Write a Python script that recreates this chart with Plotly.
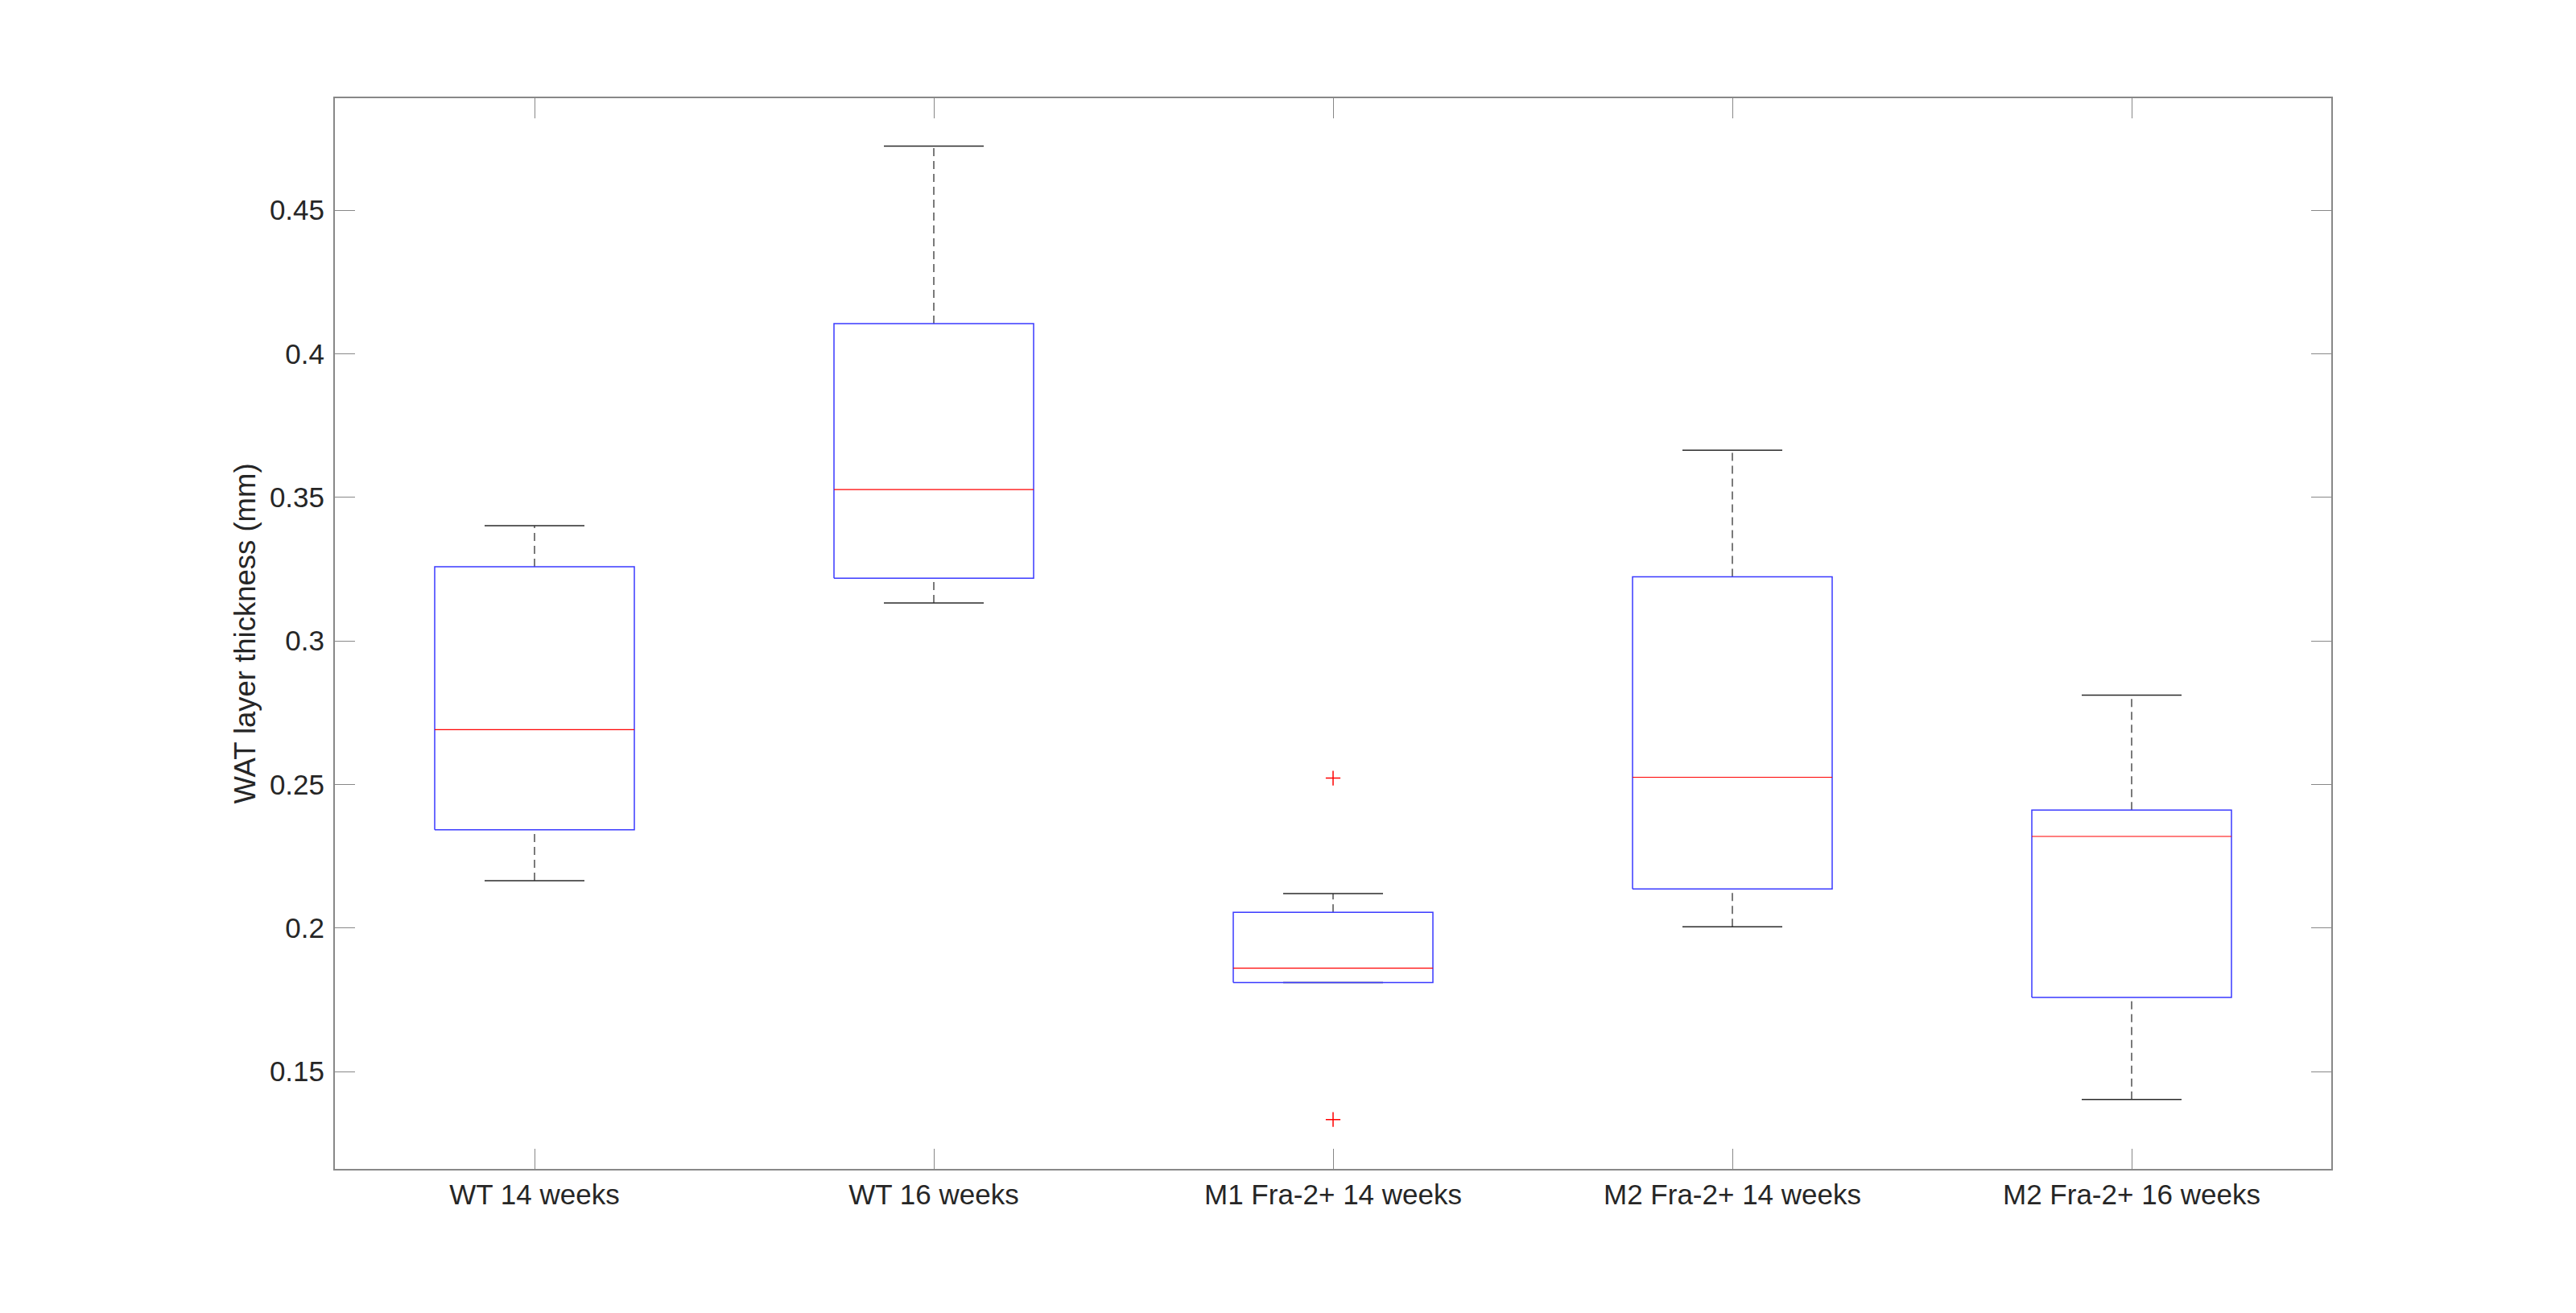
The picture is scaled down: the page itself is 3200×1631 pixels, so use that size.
import plotly.graph_objects as go

# ---- data ----
categories = ["WT 14 weeks", "WT 16 weeks", "M1 Fra-2+ 14 weeks",
              "M2 Fra-2+ 14 weeks", "M2 Fra-2+ 16 weeks"]
upper_whisker = [0.3401, 0.4723, 0.2120, 0.3664, 0.2811]
q3_values = [0.3258, 0.4105, 0.2055, 0.3223, 0.2411]
median_values = [0.2691, 0.3527, 0.1860, 0.2525, 0.2319]
q1_values = [0.2342, 0.3218, 0.1810, 0.2136, 0.1758]
lower_whisker = [0.2165, 0.3132, 0.1810, 0.2004, 0.1403]
outlier_group = [3, 3]
outlier_values = [0.2522, 0.1333]

y_tick_vals = [0.15, 0.2, 0.25, 0.3, 0.35, 0.4, 0.45]
y_tick_text = ["0.15", "0.2", "0.25", "0.3", "0.35", "0.4", "0.45"]
y_range = [0.1161, 0.4890]

# ---- geometry helpers ----
BOX_HALF = 0.25
CAP_HALF = 0.125
positions = list(range(1, len(categories) + 1))

wx, wy = [], []
cx, cy = [], []
bx, by = [], []
mx, my = [], []
for p, lo, a, m, b, hi in zip(positions, lower_whisker, q1_values, median_values,
                              q3_values, upper_whisker):
    # whiskers (dashed)
    if hi > b:
        wx += [p, p, None]; wy += [b, hi, None]
    if lo < a:
        wx += [p, p, None]; wy += [lo, a, None]
    # caps
    cx += [p - CAP_HALF, p + CAP_HALF, None, p - CAP_HALF, p + CAP_HALF, None]
    cy += [hi, hi, None, lo, lo, None]
    # box
    bx += [p - BOX_HALF, p + BOX_HALF, p + BOX_HALF, p - BOX_HALF, p - BOX_HALF, None]
    by += [a, a, b, b, a, None]
    # median
    mx += [p - BOX_HALF, p + BOX_HALF, None]
    my += [m, m, None]

fig = go.Figure()
fig.add_trace(go.Scatter(x=wx, y=wy, mode="lines", hoverinfo="skip",
                         line=dict(color="#7a7a7a", width=2, dash="10px,6px")))
fig.add_trace(go.Scatter(x=cx, y=cy, mode="lines", hoverinfo="skip",
                         line=dict(color="#2a2a2a", width=1.5)))
fig.add_trace(go.Scatter(x=bx, y=by, mode="lines", hoverinfo="skip",
                         line=dict(color="#3a3aff", width=1.5)))
fig.add_trace(go.Scatter(x=mx, y=my, mode="lines", hoverinfo="skip",
                         line=dict(color="#ff0000", width=1.2)))
fig.add_trace(go.Scatter(x=outlier_group, y=outlier_values, mode="markers",
                         hoverinfo="skip",
                         marker=dict(symbol="cross-thin", size=13,
                                     line=dict(color="#ff0000", width=1.5))))

axis_color = "#888888"
text_color = "#262626"
font_family = "Liberation Sans, Arial, Helvetica, sans-serif"

fig.update_layout(
    width=3184, height=1615,
    margin=dict(l=408, r=296, t=114, b=171, autoexpand=False),
    paper_bgcolor="white", plot_bgcolor="white",
    showlegend=False,
    font=dict(family=font_family, color=text_color, size=35),
)
fig.update_xaxes(
    range=[0.5, len(categories) + 0.5],
    tickmode="array", tickvals=positions, ticktext=categories,
    ticks="inside", ticklen=25, tickwidth=1.2, tickcolor=axis_color,
    showline=True, linecolor=axis_color, linewidth=2, mirror="ticks",
    showgrid=False, zeroline=False,
    tickfont=dict(size=35, color=text_color, family=font_family),
    ticklabelstandoff=0,
)
fig.update_yaxes(
    range=y_range,
    tickmode="array", tickvals=y_tick_vals, ticktext=y_tick_text,
    ticks="inside", ticklen=25, tickwidth=1.2, tickcolor=axis_color,
    showline=True, linecolor=axis_color, linewidth=2, mirror="ticks",
    showgrid=False, zeroline=False,
    tickfont=dict(size=35, color=text_color, family=font_family),
    ticklabelstandoff=4,
    title=dict(text="WAT layer thickness (mm)", standoff=6,
               font=dict(size=36.5, color=text_color, family=font_family)),
)

fig.write_html("out.html")
